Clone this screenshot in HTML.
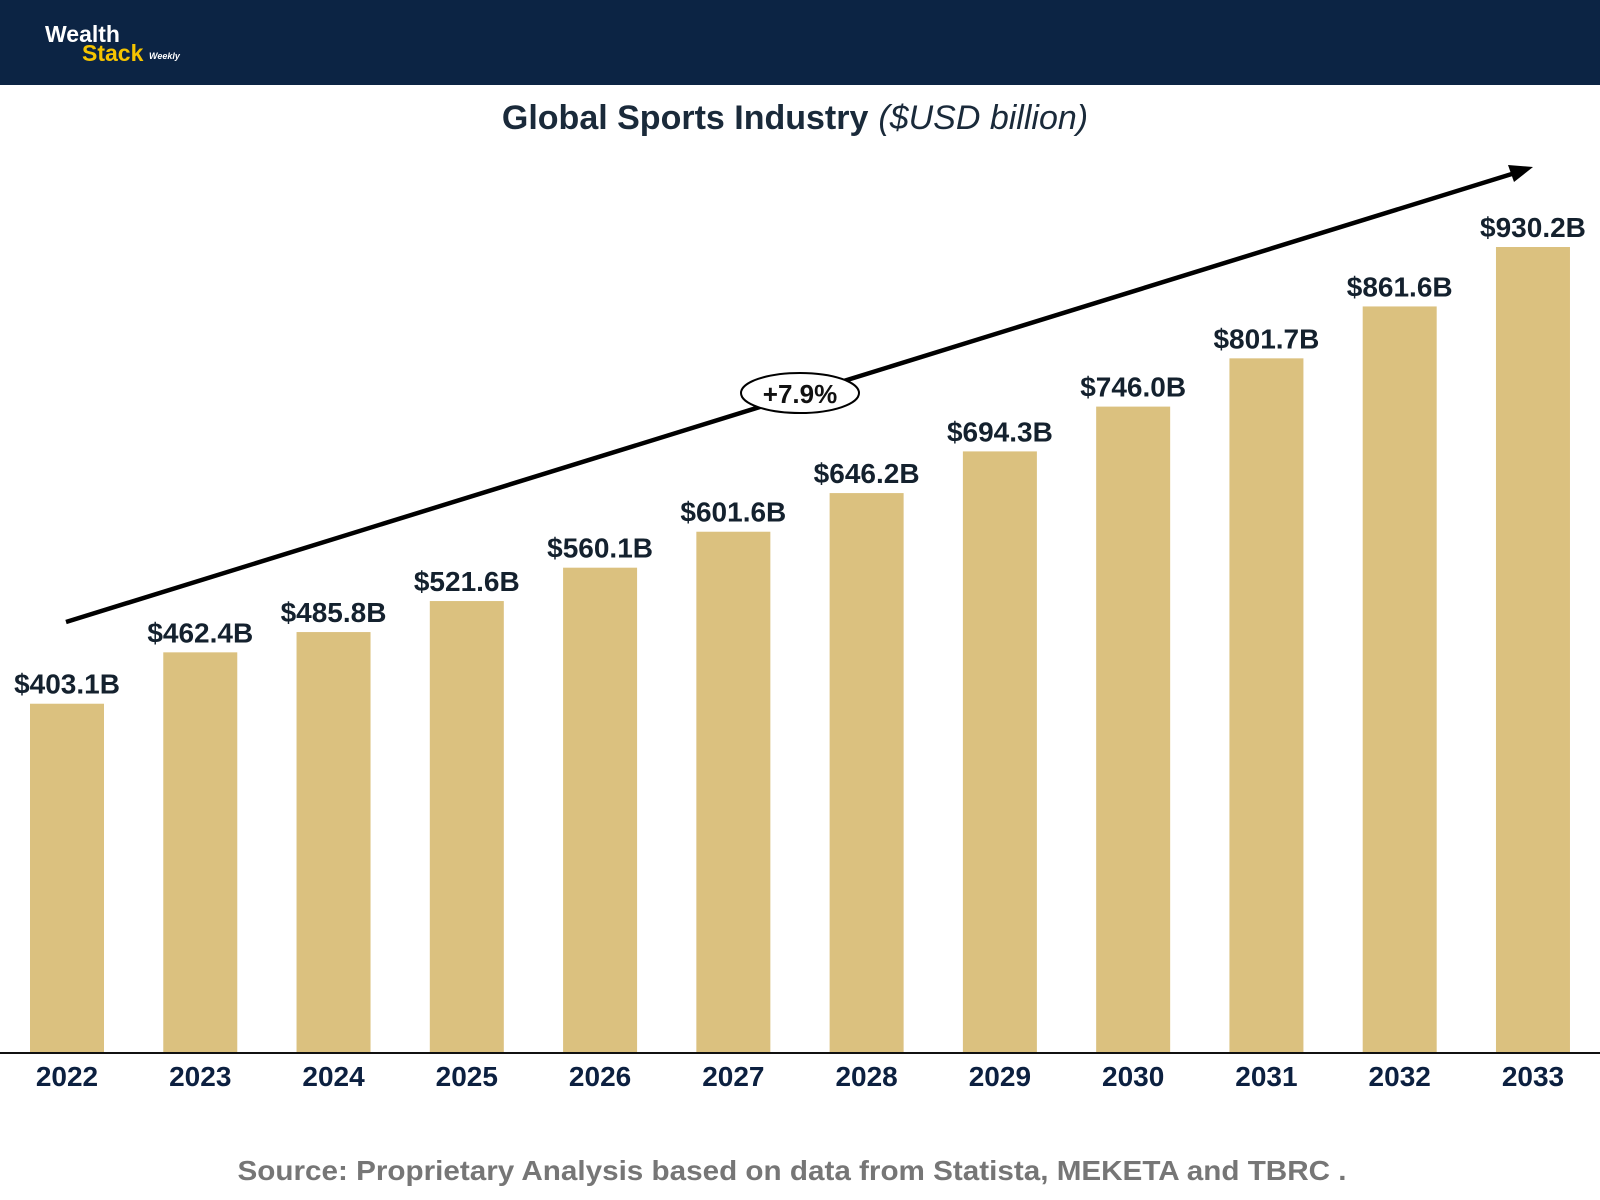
<!DOCTYPE html>
<html><head><meta charset="utf-8"><style>
html,body{margin:0;padding:0;background:#fff;}
svg{display:block;font-family:"Liberation Sans",sans-serif;}
</style></head><body>
<svg id="chart" width="1600" height="1200" viewBox="0 0 1600 1200">
<rect x="0" y="0" width="1600" height="85" fill="#0c2444"/>
<g>
<text x="45" y="42" font-size="23" font-weight="bold" fill="#ffffff">Wealth</text>
<text x="82" y="61" font-size="23" font-weight="bold" fill="#f5c400">Stack</text>
<text x="149" y="59" font-size="9" font-style="italic" font-weight="bold" fill="#ffffff">Weekly</text>
</g>
<text x="795" y="129" text-anchor="middle" font-size="34" fill="#1a2a3a"><tspan font-weight="bold">Global Sports Industry</tspan><tspan font-style="italic" dx="10">($USD billion)</tspan></text>
<g id="bars"></g>
<line x1="0" y1="1053" x2="1600" y2="1053" stroke="#111" stroke-width="2"/>
<g>
<line x1="66" y1="622" x2="1515" y2="173" stroke="#000" stroke-width="4.5"/>
<polygon points="1533,167 1508,165 1514,182" fill="#000"/>
</g>
<ellipse cx="800" cy="393" rx="59" ry="20" fill="#fff" stroke="#000" stroke-width="2"/>
<text x="800" y="403" text-anchor="middle" font-size="26" font-weight="bold" fill="#111">+7.9%</text>
<text x="792" y="1180" text-anchor="middle" font-size="28" font-weight="bold" fill="#767676" textLength="1109" lengthAdjust="spacingAndGlyphs">Source: Proprietary Analysis based on data from Statista, MEKETA and TBRC .</text>
</svg>
<script>
const years = ["2022","2023","2024","2025","2026","2027","2028","2029","2030","2031","2032","2033"];
const values = [403.1,462.4,485.8,521.6,560.1,601.6,646.2,694.3,746.0,801.7,861.6,930.2];
const valueLabels = ["$403.1B","$462.4B","$485.8B","$521.6B","$560.1B","$601.6B","$646.2B","$694.3B","$746.0B","$801.7B","$861.6B","$930.2B"];
const NS="http://www.w3.org/2000/svg";
const baseY=1053, scale=806/930.2, x0=30, step=133.27, bw=74;
function xPos(i){return x0+i*step;}
function yPos(v){return baseY-v*scale;}
const g=document.getElementById('bars');
years.forEach((yr,i)=>{
  const r=document.createElementNS(NS,'rect');
  r.setAttribute('x',xPos(i));r.setAttribute('y',yPos(values[i]));
  r.setAttribute('width',bw);r.setAttribute('height',baseY-yPos(values[i]));
  r.setAttribute('fill','#dbc17f');
  
  
  g.appendChild(r);
  const t=document.createElementNS(NS,'text');
  t.setAttribute('x',xPos(i)+bw/2);t.setAttribute('y',yPos(values[i])-10);
  t.setAttribute('text-anchor','middle');t.setAttribute('font-size','28');
  t.setAttribute('font-weight','bold');t.setAttribute('fill','#14212e');
  t.textContent=valueLabels[i];
  
  
  g.appendChild(t);
  const y=document.createElementNS(NS,'text');
  y.setAttribute('x',xPos(i)+bw/2);y.setAttribute('y',1086);
  y.setAttribute('text-anchor','middle');y.setAttribute('font-size','28');
  y.setAttribute('font-weight','bold');y.setAttribute('fill','#0c2040');
  y.textContent=yr;
  
  
  g.appendChild(y);
});
</script>
</body></html>
